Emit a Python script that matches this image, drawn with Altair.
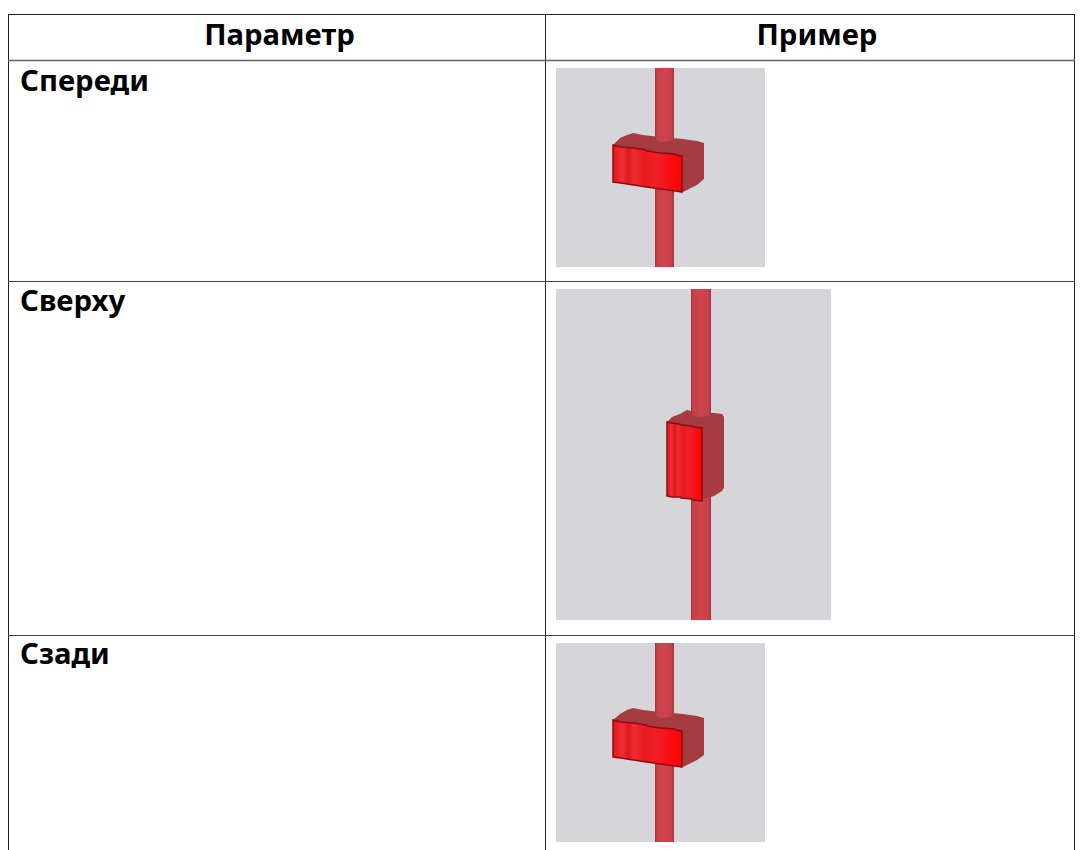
import altair as alt
import pandas as pd

# Table content
headers = ["Параметр", "Пример"]
header_x = [279.5, 817]
header_y = [45, 45]
labels = ["Спереди", "Сверху", "Сзади"]
label_x = [20, 20, 20]
label_y = [91, 311, 664]

# Table lines
v_lines_x = [8.5, 545.5, 1074.5]
v_lines_y = [14, 14, 14]
v_lines_y2 = [850, 850, 850]
h_dark_y = [14.5]
h_head_y = [60.5]
h_row_y = [281.5, 635.5]

# Picture backgrounds
bg_x = [556, 556, 556]
bg_x2 = [765, 831, 765]
bg_y = [68, 289, 643]
bg_y2 = [267, 620, 842]

# Rods
rod_x = [655, 691, 655]
rod_x2 = [674, 711, 674]
rod_low_y = [185, 495, 760]
rod_low_y2 = [267, 620, 842]

# Upper rod ends
rod_up = [
    ([655, 657, 662, 670, 674], [68, 68, 68, 68, 68], [139, 141, 142, 141, 138]),
    ([691, 693, 700, 708, 711], [289, 289, 289, 289, 289], [414, 416, 417, 416, 414]),
    ([655, 657, 662, 670, 674], [643, 643, 643, 643, 643], [714, 717, 718, 717, 714]),
]

# Box top and side (x, upper y, lower y)
box_back = [
    ([613, 620, 627, 633, 643, 660, 683, 697, 704],
     [145, 138, 135, 133, 135, 137, 139, 141, 143],
     [145, 147, 149, 150, 152, 154, 192, 185, 179]),
    ([667, 672, 680, 687, 700, 714, 722, 724],
     [422, 417, 414, 410, 413, 413, 414, 417],
     [422, 424, 426, 428, 500, 496, 491, 488]),
    ([613, 620, 627, 633, 643, 660, 683, 697, 704],
     [720, 714, 710, 708, 710, 712, 714, 716, 718],
     [720, 722, 724, 725, 727, 729, 767, 760, 755]),
]

# Box front face (x, upper y, lower y)
box_front = [
    ([613, 621, 633, 634, 646, 647, 660, 661, 675, 676, 682],
     [145, 147, 148, 148, 150, 151, 153, 153, 154, 155, 156],
     [182, 183, 185, 185, 187, 187, 189, 189, 191, 191, 192]),
    ([667, 672, 680, 681, 692, 693, 702],
     [422, 423, 424, 425, 426, 427, 428],
     [496, 497, 497, 498, 499, 500, 501]),
    ([613, 621, 633, 634, 646, 647, 660, 661, 675, 676, 682],
     [720, 722, 723, 723, 725, 726, 728, 728, 729, 730, 731],
     [757, 758, 760, 760, 762, 762, 764, 764, 766, 766, 767]),
]


def poly(items):
    rows = []
    for i, (xs, ys, y2s) in enumerate(items):
        for x, y, y2 in zip(xs, ys, y2s):
            rows.append({"id": i, "x": x, "y": y, "y2": y2})
    return pd.DataFrame(rows)


sx = alt.Scale(domain=[8, 1075])
sy = alt.Scale(domain=[850, 8])
X = alt.X("x:Q", scale=sx, axis=None)
Y = alt.Y("y:Q", scale=sy, axis=None)


def grad(stops):
    return alt.LinearGradient(
        gradient="linear",
        stops=[alt.GradientStop(color=c, offset=o) for o, c in stops],
        x1=0, x2=1, y1=0, y2=0,
    )


rod_grad = grad([(0, "#96383e"), (0.12, "#c8404a"), (0.5, "#d0444c"), (0.88, "#c8404a"), (1, "#96383e")])
front_grad = grad([(0, "#e2141a"), (0.14, "#ee3038"), (0.22, "#e0161c"), (0.30, "#ec2c34"),
                   (0.45, "#e81a20"), (0.62, "#ee2026"), (0.8, "#f81016"), (1, "#ff0000")])

bg = alt.Chart(pd.DataFrame({"x": bg_x, "x2": bg_x2, "y": bg_y, "y2": bg_y2})).mark_rect(color="#d6d6da").encode(
    x=X, x2="x2:Q", y=Y, y2="y2:Q")
rod_low = alt.Chart(pd.DataFrame({"x": rod_x, "x2": rod_x2, "y": rod_low_y, "y2": rod_low_y2})).mark_rect(
    color=rod_grad).encode(x=X, x2="x2:Q", y=Y, y2="y2:Q")
back = alt.Chart(poly(box_back)).mark_area(color="#a43c42", interpolate="linear").encode(
    x=X, y=Y, y2="y2:Q", detail="id:N")
rod_top = alt.Chart(poly(rod_up)).mark_area(color=rod_grad, interpolate="linear").encode(
    x=X, y=Y, y2="y2:Q", detail="id:N")
front = alt.Chart(poly(box_front)).mark_area(
    color=front_grad, interpolate="linear", stroke="#8e0a10", strokeWidth=1.5
).encode(x=X, y=Y, y2="y2:Q", detail="id:N")

vlines = alt.Chart(pd.DataFrame({"x": v_lines_x, "y": v_lines_y, "y2": v_lines_y2})).mark_rule(
    color="#222222", strokeWidth=1).encode(x=X, y=Y, y2="y2:Q")
top_line = alt.Chart(pd.DataFrame({"y": h_dark_y, "x": [8], "x2": [1075]})).mark_rule(
    color="#222222", strokeWidth=1).encode(x=X, x2="x2:Q", y=Y)
head_line = alt.Chart(pd.DataFrame({"y": h_head_y, "x": [8], "x2": [1075]})).mark_rule(
    color="#666666", strokeWidth=1.5).encode(x=X, x2="x2:Q", y=Y)
row_lines = alt.Chart(pd.DataFrame({"y": h_row_y, "x": [8, 8], "x2": [1075, 1075]})).mark_rule(
    color="#444444", strokeWidth=1).encode(x=X, x2="x2:Q", y=Y)

head_text = alt.Chart(pd.DataFrame({"x": header_x, "y": header_y, "t": headers})).mark_text(
    font="Noto Sans", fontWeight="bold", fontSize=29.3, align="center", baseline="alphabetic", color="#000000"
).encode(x=X, y=Y, text="t:N")
label_text = alt.Chart(pd.DataFrame({"x": label_x, "y": label_y, "t": labels})).mark_text(
    font="Noto Sans", fontWeight="bold", fontSize=29.3, align="left", baseline="alphabetic", color="#000000"
).encode(x=X, y=Y, text="t:N")

chart = alt.layer(bg, rod_low, back, rod_top, front, vlines, top_line, head_line, row_lines,
                  head_text, label_text).properties(
    width=1067, height=842, padding=0, background="#ffffff",
    autosize=alt.AutoSizeParams(type="none"),
).configure_view(stroke=None)

chart.save("out.html", embed_options={"renderer": "svg", "actions": False})
